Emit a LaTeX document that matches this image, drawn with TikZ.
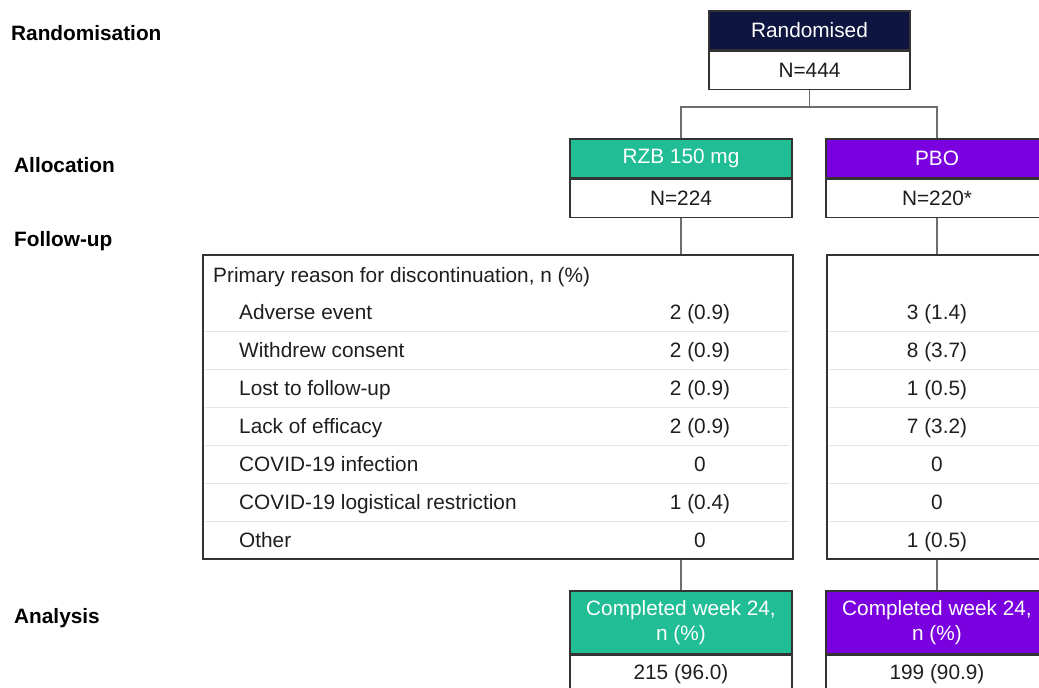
\documentclass[tikz,border=0pt]{standalone}
\usepackage{fontspec}
\setmainfont{Liberation Sans}
\definecolor{navy}{HTML}{0E1540}
\definecolor{rzbgreen}{HTML}{21BD95}
\definecolor{pbopurple}{HTML}{7A00DF}
\definecolor{boxline}{HTML}{333333}
\definecolor{linkgrey}{HTML}{6E6E6E}
\definecolor{rowgrey}{HTML}{E4E4E4}
\definecolor{inkgrey}{HTML}{1E1E1E}
\newcommand{\flowfont}{\fontsize{20.8}{25}\selectfont}
\tikzset{
  head/.style={draw=boxline, line width=1.7pt, text=white, inner sep=0pt,
    minimum height=39pt, anchor=north, align=center},
  count/.style={draw=boxline, line width=1.7pt, fill=white, text=inkgrey,
    inner sep=0pt, minimum height=38pt, anchor=north},
  frame/.style={draw=boxline, line width=1.7pt, inner sep=0pt, anchor=north west},
  link/.style={draw=linkgrey, line width=1.1pt},
  rowline/.style={draw=rowgrey, line width=0.8pt},
  stage/.style={font=\flowfont\bfseries, text=black, anchor=west, inner sep=0pt,
    text height=18pt, text depth=3pt},
  reason/.style={text=inkgrey, anchor=west, inner sep=0pt, text height=18pt, text depth=3pt},
  value/.style={text=inkgrey, inner sep=0pt, text height=18pt, text depth=3pt},
}
\begin{document}
\begin{tikzpicture}[x=1pt, y=-1pt, font=\flowfont]

    \useasboundingbox (0,0) rectangle (1039,688);
    \clip (0,0) rectangle (1039,688);

    % stages
    \node[stage] (stRand) at (11,33) {Randomisation};
    \node[stage] (stAlloc) at (14,165) {Allocation};
    \node[stage] (stFollow) at (14,239) {Follow-up};
    \node[stage] (stAna) at (14,616) {Analysis};

    % randomised
    \node[head, fill=navy, minimum width=201pt] (rand) at (809.5,10) {Randomised};
    \node[count, minimum width=201pt] (randN) at (rand.south) {N=444};

    % arms
    \node[head, fill=rzbgreen, minimum width=222pt] (rzb) at (681,138) {RZB 150 mg};
    \node[count, minimum width=222pt] (rzbN) at (rzb.south) {N=224};
    \node[head, fill=pbopurple, minimum width=222pt] (pbo) at (937,138) {PBO};
    \node[count, minimum width=222pt] (pboN) at (pbo.south) {N=220*};

    \coordinate (split) at (809.5,107);
    \draw[link] (randN.south) -- (split);
    \draw[link] (split) -| (rzb.north);
    \draw[link] (split) -| (pbo.north);

    % follow-up tables
    \node[frame, minimum width=590pt, minimum height=304pt] (rzbTab) at (202,254) {};
    \node[frame, minimum width=222pt, minimum height=304pt] (pboTab) at (826,254) {};
    \draw[link] (rzbN.south) -- (rzbTab.north -| rzbN.south);
    \draw[link] (pboN.south) -- (pboTab.north -| pboN.south);

    \node[reason] (primary) at (213,275) {Primary reason for discontinuation, n (\%)};

    \foreach \i in {0,...,5}
    {
    \draw[rowline] (205,331+38*\i) -- (789,331+38*\i);
    \draw[rowline] (829,331+38*\i) -- (1045,331+38*\i);
    }

    \foreach \why/\rzbv/\pbov [count=\i from 0] in {
        Adverse event/2 (0.9)/3 (1.4),
        Withdrew consent/2 (0.9)/8 (3.7),
        Lost to follow-up/2 (0.9)/1 (0.5),
        Lack of efficacy/2 (0.9)/7 (3.2),
        COVID-19 infection/0/0,
        COVID-19 logistical restriction/1 (0.4)/0,
        Other/0/1 (0.5)}
    {
    \node[reason] (why\i) at (239,312+38*\i) {\why};
    \node[value] (rzbVal\i) at (700,312+38*\i) {\rzbv};
    \node[value] (pboVal\i) at (937,312+38*\i) {\pbov};
    }

    % analysis
    \node[head, fill=rzbgreen, minimum width=222pt, minimum height=63pt] (rzbDone) at (681,590) {Completed week 24,\\n (\%)};
    \node[count, minimum width=222pt] (rzbDoneN) at (rzbDone.south) {215 (96.0)};
    \node[head, fill=pbopurple, minimum width=222pt, minimum height=63pt] (pboDone) at (937,590) {Completed week 24,\\n (\%)};
    \node[count, minimum width=222pt] (pboDoneN) at (pboDone.south) {199 (90.9)};

    \draw[link] (rzbTab.south -| rzbDone.north) -- (rzbDone.north);
    \draw[link] (pboTab.south -| pboDone.north) -- (pboDone.north);

  \end{tikzpicture}
\end{document}
